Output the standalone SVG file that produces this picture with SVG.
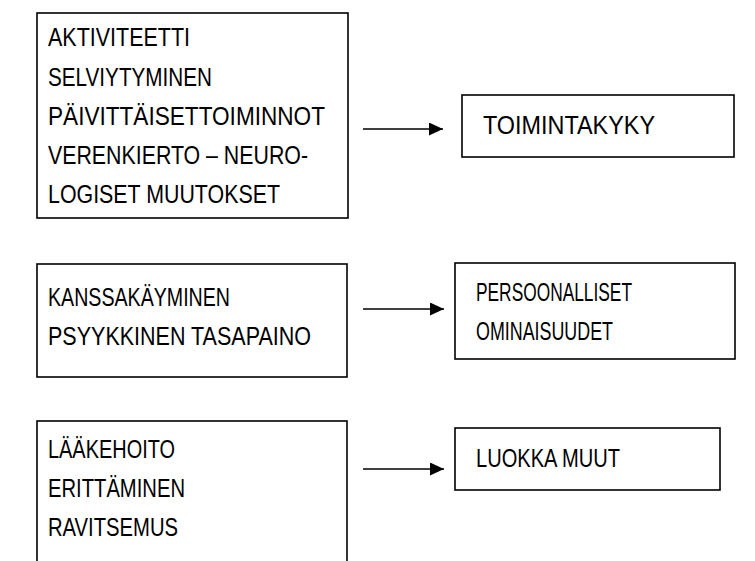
<svg xmlns="http://www.w3.org/2000/svg" width="755" height="561" viewBox="0 0 755 561">
<style>
.box{fill:#fff;stroke:#000;stroke-width:1.6}
.t{font-family:"Liberation Sans",Arial,sans-serif;font-size:25px;fill:#000}
.c{stroke:#000;stroke-width:1.6;fill:none}
</style>
<defs>
<marker id="ah" viewBox="0 0 14 13" refX="14" refY="6.5" markerWidth="14" markerHeight="13" markerUnits="userSpaceOnUse" orient="auto">
<path d="M0,0 L14,6.5 L0,13 Z" fill="#000"/>
</marker>
</defs>
<rect width="755" height="561" fill="#fff"/>
<g id="n1">
<rect class="box" x="37" y="13" width="311" height="205"/>
<text class="t" x="48" y="46" textLength="142" lengthAdjust="spacingAndGlyphs">AKTIVITEETTI</text>
<text class="t" x="48" y="85.5" textLength="164" lengthAdjust="spacingAndGlyphs">SELVIYTYMINEN</text>
<text class="t" x="48" y="125" textLength="277" lengthAdjust="spacingAndGlyphs">PÄIVITTÄISETTOIMINNOT</text>
<text class="t" x="48" y="164" textLength="260" lengthAdjust="spacingAndGlyphs">VERENKIERTO – NEURO-</text>
<text class="t" x="48" y="203" textLength="232" lengthAdjust="spacingAndGlyphs">LOGISET MUUTOKSET</text>
</g>
<g id="n2">
<rect class="box" x="462" y="95" width="272" height="62"/>
<text class="t" x="483" y="134" textLength="172" lengthAdjust="spacingAndGlyphs">TOIMINTAKYKY</text>
</g>
<g id="n3">
<rect class="box" x="37" y="264" width="310" height="113"/>
<text class="t" x="48" y="306" textLength="182" lengthAdjust="spacingAndGlyphs">KANSSAKÄYMINEN</text>
<text class="t" x="48" y="345" textLength="263" lengthAdjust="spacingAndGlyphs">PSYYKKINEN TASAPAINO</text>
</g>
<g id="n4">
<rect class="box" x="455" y="263" width="280" height="96"/>
<text class="t" x="476" y="301" textLength="156" lengthAdjust="spacingAndGlyphs">PERSOONALLISET</text>
<text class="t" x="476" y="340" textLength="137" lengthAdjust="spacingAndGlyphs">OMINAISUUDET</text>
</g>
<g id="n5">
<rect class="box" x="37" y="421" width="310" height="160"/>
<text class="t" x="48" y="458" textLength="127" lengthAdjust="spacingAndGlyphs">LÄÄKEHOITO</text>
<text class="t" x="48" y="497" textLength="137" lengthAdjust="spacingAndGlyphs">ERITTÄMINEN</text>
<text class="t" x="48" y="536" textLength="130" lengthAdjust="spacingAndGlyphs">RAVITSEMUS</text>
</g>
<g id="n6">
<rect class="box" x="455" y="428" width="265" height="62"/>
<text class="t" x="476" y="467" textLength="144" lengthAdjust="spacingAndGlyphs">LUOKKA MUUT</text>
</g>
<g id="connectors">
<line class="c" x1="363" y1="129" x2="443" y2="129" marker-end="url(#ah)"/>
<line class="c" x1="363" y1="309" x2="444" y2="309" marker-end="url(#ah)"/>
<line class="c" x1="363" y1="469" x2="444" y2="469" marker-end="url(#ah)"/>
</g>
</svg>
